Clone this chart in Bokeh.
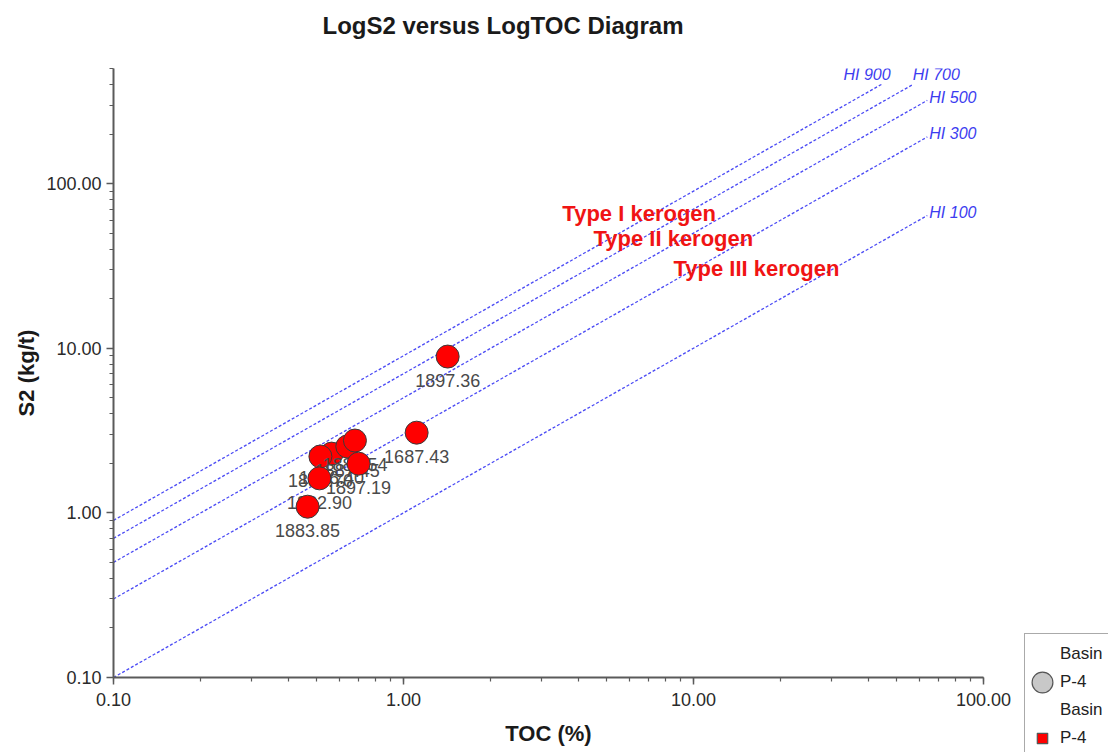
import math
from bokeh.plotting import figure
from bokeh.models import ColumnDataSource, Legend, LegendItem, PrintfTickFormatter, LogTicker, Title
from bokeh.core.properties import value
from bokeh.embed import file_html
from bokeh.resources import INLINE

# ---------------- data ----------------
title_text = "LogS2 versus LogTOC Diagram"
x_label = "TOC (%)"
y_label = "S2 (kg/t)"

# samples, in drawing order
depth = ["1897.36", "1687.43", "1686.40", "1888.70", "1887.45", "1885.54", "1897.19", "1882.90", "1883.85"]
toc = [1.42, 1.11, 0.565, 0.517, 0.64, 0.68, 0.70, 0.513, 0.467]
s2 = [8.9, 3.07, 2.29, 2.20, 2.53, 2.75, 1.99, 1.62, 1.09]

# hydrogen-index reference lines
hi_values = [100, 300, 500, 700, 900]
hi_names = ["HI 100", "HI 300", "HI 500", "HI 700", "HI 900"]
hi_toc_start = [0.1, 0.1, 0.1, 0.1, 0.1]
hi_toc_end = [64, 64, 64, 57, 44.5]

kerogen_names = ["Type I kerogen", "Type II kerogen", "Type III kerogen"]
kerogen_toc = [3.53, 4.52, 8.53]
kerogen_s2 = [65.6, 46.2, 30.4]

legend_title = "Basin"
legend_labels = ["P-4", "P-4"]

# ---------------- styles ----------------
FONT = value("Liberation Sans")
hi_dx = [2, 2, 2, 0, -38]
hi_dy = [-3, -3, -3, -10, -10]

p = figure(frame_width=870, frame_height=609,
           x_axis_type="log", y_axis_type="log",
           x_range=(0.1, 100), y_range=(0.1, 500),
           output_backend="svg", toolbar_location=None,
           min_border_left=113, min_border_right=125,
           min_border_top=68, min_border_bottom=74)
p.outline_line_color = None
p.grid.visible = False
p.background_fill_color = "white"

# main title (outer slot)
p.title.text = title_text
p.title.align = "left"
p.title.offset = 209
p.title.standoff = 0
p.title.vertical_align = "bottom"
p.title.text_font = "Liberation Sans"
p.title.text_font_size = "24px"
p.title.text_font_style = "bold"
p.title.text_color = "#1a1a1a"

# spacer between the title and the frame
spacer = Title(text=" ", text_font_size="1px", standoff=27)
p.add_layout(spacer, "above")

for ax in (p.xaxis[0], p.yaxis[0]):
    ax.ticker = LogTicker(num_minor_ticks=10)
    ax.formatter = PrintfTickFormatter(format="%.2f")
    ax.axis_line_color = "#5a5a5a"
    ax.axis_line_width = 2
    ax.major_tick_line_color = "#5a5a5a"
    ax.major_tick_line_width = 1.5
    ax.minor_tick_line_color = "#5a5a5a"
    ax.minor_tick_line_width = 1.2
    ax.major_tick_out = 7
    ax.major_tick_in = 0
    ax.minor_tick_out = 4
    ax.minor_tick_in = 0
    ax.major_label_text_font = "Liberation Sans"
    ax.major_label_text_font_size = "18px"
    ax.major_label_text_color = "#2a2a2a"
    ax.axis_label_text_font = "Liberation Sans"
    ax.axis_label_text_font_size = "22px"
    ax.axis_label_text_font_style = "bold"
    ax.axis_label_text_color = "#1a1a1a"

p.xaxis.axis_label = x_label
p.yaxis.axis_label = y_label
p.xaxis.major_label_standoff = 8
p.yaxis.major_label_standoff = 5
p.xaxis.axis_label_standoff = 12
p.yaxis.axis_label_standoff = 4

# HI lines
line_xs = [[a, b] for a, b in zip(hi_toc_start, hi_toc_end)]
line_ys = [[h / 100 * a, h / 100 * b] for h, a, b in zip(hi_values, hi_toc_start, hi_toc_end)]
p.multi_line(xs=line_xs, ys=line_ys, line_color="#4b4bf5", line_width=1.3, line_dash="3 2")

hi_src = ColumnDataSource(dict(
    x=hi_toc_end,
    y=[h / 100 * b for h, b in zip(hi_values, hi_toc_end)],
    text=hi_names, dx=hi_dx, dy=hi_dy))
p.text(x="x", y="y", text="text", x_offset="dx", y_offset="dy", source=hi_src,
       text_font=FONT, text_font_size="16px", text_font_style="italic",
       text_color="#3c3cf0", text_align="left", text_baseline="middle")

# kerogen labels
p.text(x=kerogen_toc, y=kerogen_s2, text=kerogen_names,
       text_font=FONT, text_font_size="22px", text_font_style="bold",
       text_color="#f01414", text_align="left", text_baseline="middle")

# samples: circle then label, point by point
for i in range(len(depth)):
    src = ColumnDataSource(dict(x=[toc[i]], y=[s2[i]], label=[depth[i]]))
    p.scatter(x="x", y="y", source=src, marker="circle", size=23,
              fill_color="#ff0000", line_color="#3a3a3a", line_width=1)
    p.text(x="x", y="y", text="label", source=src, y_offset=24,
           text_font=FONT, text_font_size="18px", text_color="#4a4a4a",
           text_align="center", text_baseline="middle")

# ---------------- legend (cut off by the window edge, as in the reference) ----------------
nan = math.nan
r_circle = p.ellipse(x=[nan], y=[nan], width=20, height=20,
                     width_units="screen", height_units="screen",
                     fill_color="#c8c8c8", line_color="#555555", line_width=1.2)
r_square = p.scatter(x=[nan], y=[nan], marker="square", size=15,
                     fill_color="#ff0000", line_color="#555555", line_width=1.2)
r_none = p.scatter(x=[], y=[], marker="circle", fill_alpha=0, line_alpha=0)

legend = Legend(items=[LegendItem(label=legend_title, renderers=[r_none]),
                       LegendItem(label=legend_labels[0], renderers=[r_circle]),
                       LegendItem(label=legend_title, renderers=[r_none]),
                       LegendItem(label=legend_labels[1], renderers=[r_square])],
                location=(41, -86), glyph_width=26, glyph_height=28,
                spacing=0, padding=dict(left=4, right=20, top=6, bottom=10),
                margin=0, label_standoff=5, label_width=42,
                border_line_color="#555555", border_line_width=1.5,
                background_fill_color="white",
                label_text_font="Liberation Sans", label_text_font_size="17px",
                label_text_color="#222222")
p.add_layout(legend, "right")

open("out.html", "w").write(file_html(p, INLINE))
